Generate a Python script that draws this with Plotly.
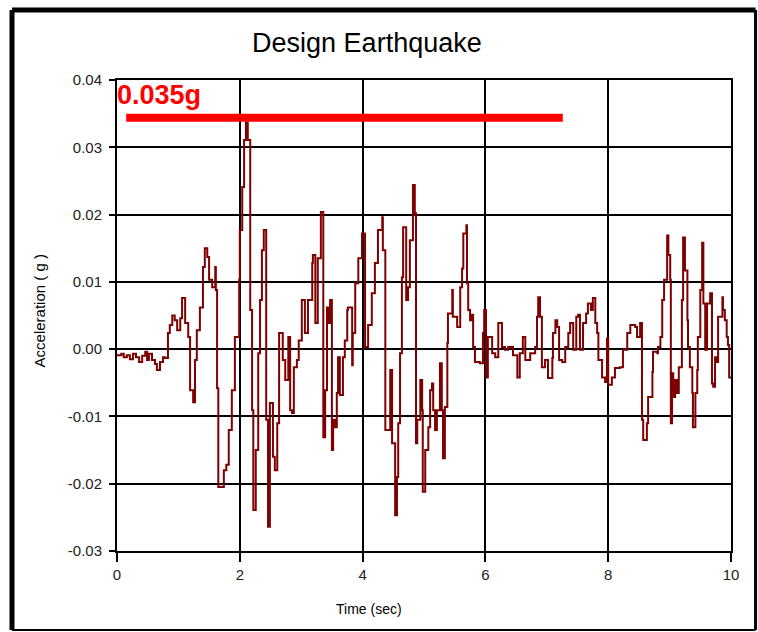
import plotly.graph_objects as go

# ---- data ----
time_s = [0.00, 0.07, 0.11, 0.16, 0.21, 0.26, 0.31, 0.36, 0.41, 0.46, 0.49, 0.52, 0.57, 0.62, 0.65,
          0.70, 0.75, 0.78, 0.83, 0.86, 0.90, 0.94, 0.98, 1.03, 1.06, 1.11, 1.16, 1.19, 1.24, 1.27,
          1.30, 1.35, 1.40, 1.43, 1.47, 1.50, 1.55, 1.60, 1.61, 1.63, 1.65, 1.69, 1.74, 1.78, 1.82,
          1.87, 1.92, 1.95, 1.99, 2.00, 2.04, 2.07, 2.10, 2.13, 2.17, 2.20, 2.22, 2.26, 2.30, 2.33,
          2.36, 2.39, 2.43, 2.46, 2.49, 2.54, 2.57, 2.61, 2.64, 2.70, 2.74, 2.79, 2.82, 2.85, 2.88,
          2.93, 2.96, 3.01, 3.06, 3.11, 3.18, 3.19, 3.23, 3.27, 3.32, 3.36, 3.39, 3.42, 3.44, 3.47,
          3.50, 3.52, 3.55, 3.58, 3.60, 3.63, 3.68, 3.71, 3.75, 3.76, 3.83, 3.84, 3.88, 3.93, 3.99,
          4.04, 4.09, 4.15, 4.20, 4.25, 4.32, 4.33, 4.37, 4.45, 4.48, 4.53, 4.56, 4.58, 4.61, 4.64,
          4.66, 4.71, 4.74, 4.77, 4.82, 4.85, 4.87, 4.89, 4.94, 4.97, 4.98, 5.02, 5.07, 5.10, 5.13,
          5.15, 5.18, 5.21, 5.26, 5.29, 5.31, 5.34, 5.38, 5.39, 5.46, 5.47, 5.54, 5.59, 5.62, 5.64,
          5.69, 5.70, 5.72, 5.75, 5.78, 5.80, 5.83, 5.91, 5.96, 5.98, 6.01, 6.04, 6.11, 6.16, 6.21,
          6.27, 6.32, 6.37, 6.45, 6.52, 6.56, 6.61, 6.65, 6.73, 6.81, 6.84, 6.86, 6.89, 6.92, 6.97,
          7.02, 7.09, 7.10, 7.14, 7.17, 7.20, 7.25, 7.30, 7.35, 7.38, 7.43, 7.48, 7.51, 7.54, 7.59,
          7.64, 7.67, 7.72, 7.75, 7.79, 7.82, 7.84, 7.90, 7.95, 7.98, 8.00, 8.06, 8.11, 8.19, 8.24,
          8.31, 8.36, 8.44, 8.47, 8.52, 8.55, 8.57, 8.63, 8.65, 8.72, 8.73, 8.80, 8.81, 8.85, 8.88,
          8.91, 8.96, 8.98, 9.01, 9.02, 9.04, 9.06, 9.09, 9.12, 9.15, 9.20, 9.22, 9.25, 9.29, 9.30,
          9.33, 9.37, 9.38, 9.42, 9.45, 9.46, 9.50, 9.53, 9.55, 9.58, 9.61, 9.66, 9.69, 9.71, 9.74,
          9.77, 9.79, 9.86, 9.87, 9.90, 9.93, 9.95, 9.97, 10.00]

acceleration_g = [-0.0009, -0.0007, -0.0012, -0.0009, -0.0015, -0.0007, -0.0012, -0.0019, -0.0010, -0.0004,
                  -0.0016, -0.0007, -0.0016, -0.0022, -0.0031, -0.0019, -0.0012, -0.0013, 0.0024, 0.0036,
                  0.0050, 0.0043, 0.0028, 0.0046, 0.0076, 0.0039, 0.0018, -0.0061, -0.0079, -0.0016,
                  0.0028, 0.0062, 0.0122, 0.0150, 0.0137, 0.0103, 0.0092, 0.0122, 0.0088, -0.0058,
                  -0.0205, -0.0205, -0.0180, -0.0172, -0.0120, -0.0061, 0.0018, 0.0018, 0.0103, 0.0177,
                  0.0241, 0.0311, 0.0337, 0.0311, 0.0058, -0.0091, -0.0239, -0.0150, -0.0006, 0.0073,
                  0.0147, 0.0177, -0.0105, -0.0264, -0.0080, -0.0160, -0.0180, -0.0110, 0.0024, -0.0016,
                  -0.0046, 0.0018, -0.0091, -0.0095, -0.0027, -0.0016, 0.0013, 0.0073, 0.0024, 0.0073,
                  0.0128, 0.0140, 0.0039, 0.0135, 0.0204, -0.0131, -0.0061, 0.0062, 0.0039, 0.0073,
                  -0.0150, -0.0105, -0.0116, -0.0065, -0.0012, -0.0068, -0.0012, 0.0013, 0.0058, 0.0062,
                  -0.0024, 0.0024, 0.0098, 0.0135, 0.0172, 0.0003, 0.0036, 0.0083, 0.0128, 0.0177,
                  0.0196, 0.0147, -0.0120, -0.0031, -0.0140, -0.0247, -0.0190, -0.0110, -0.0006, 0.0107,
                  0.0181, 0.0073, 0.0092, 0.0162, 0.0244, 0.0202, -0.0140, -0.0105, -0.0046, -0.0091,
                  -0.0212, -0.0150, -0.0116, -0.0061, -0.0051, -0.0091, -0.0120, -0.0091, -0.0021, -0.0091,
                  -0.0162, -0.0086, 0.0009, 0.0053, 0.0088, 0.0048, 0.0033, 0.0092, 0.0120, 0.0172,
                  0.0184, 0.0098, 0.0058, 0.0043, 0.0051, 0.0003, -0.0019, -0.0021, 0.0024, 0.0058,
                  -0.0042, 0.0018, -0.0006, -0.0012, 0.0039, 0.0003, -0.0001, 0.0003, -0.0009, -0.0042,
                  -0.0006, 0.0018, -0.0016, -0.0006, 0.0003, 0.0048, 0.0077, 0.0048, -0.0027, -0.0016,
                  -0.0043, -0.0013, 0.0024, 0.0043, 0.0033, -0.0016, -0.0019, 0.0003, 0.0024, 0.0039,
                  -0.0001, 0.0048, 0.0051, -0.0001, 0.0039, 0.0053, 0.0068, 0.0058, 0.0076, 0.0039,
                  0.0024, -0.0016, -0.0042, -0.0049, 0.0016, -0.0053, -0.0042, -0.0028, -0.0027, -0.0001,
                  0.0024, 0.0036, 0.0033, 0.0018, 0.0039, -0.0105, -0.0135, -0.0110, -0.0071, -0.0034,
                  -0.0004, -0.0006, 0.0003, 0.0018, 0.0073, 0.0103, 0.0169, 0.0140, 0.0103, -0.0110,
                  -0.0036, -0.0071, -0.0046, -0.0065, -0.0027, 0.0073, 0.0166, 0.0117, 0.0043, 0.0003,
                  -0.0027, -0.0065, -0.0116, -0.0065, -0.0031, 0.0018, 0.0088, 0.0158, 0.0068, -0.0001,
                  0.0068, 0.0083, -0.0051, -0.0056, -0.0012, -0.0019, 0.0048, 0.0077, 0.0058, 0.0043,
                  0.0018, 0.0006, -0.0042, -0.0042]

peak_line_t = [0.15, 7.26]
peak_line_g = [0.0344, 0.0344]
peak_label = "0.035g"

y_tick_vals = [0.04, 0.03, 0.02, 0.01, 0.00, -0.01, -0.02, -0.03]
y_tick_text = ["0.04", "0.03", "0.02", "0.01", "0.00", "-0.01", "-0.02", "-0.03"]
x_tick_vals = [0, 2, 4, 6, 8, 10]
x_tick_text = ["0", "2", "4", "6", "8", "10"]

FONT = "Liberation Sans, Arial, sans-serif"

fig = go.Figure()
fig.add_trace(go.Scatter(x=time_s, y=acceleration_g, mode="lines",
                         line=dict(color="#7f0000", width=2, shape="hv"),
                         showlegend=False, hoverinfo="skip"))
fig.add_trace(go.Scatter(x=peak_line_t, y=peak_line_g, mode="lines",
                         line=dict(color="#ff0000", width=8),
                         showlegend=False, hoverinfo="skip"))

fig.add_annotation(x=0, y=0.0377, xref="x", yref="y", text=peak_label, showarrow=False,
                   xanchor="left", yanchor="middle", xshift=-2,
                   font=dict(family=FONT, size=27, color="#ff0000", weight="bold"))

axis_common = dict(showgrid=True, gridcolor="black", gridwidth=2, showline=True,
                   linecolor="black", linewidth=2, mirror=True, zeroline=False,
                   ticks="outside", tickcolor="black", tickwidth=2,
                   tickfont=dict(family=FONT, size=15, color="#222"))

fig.update_xaxes(range=[0, 10], tickvals=x_tick_vals, ticktext=x_tick_text, ticklen=9,
                 **axis_common)
fig.update_yaxes(range=[-0.03, 0.04], tickvals=y_tick_vals, ticktext=y_tick_text, ticklen=6,
                 ticklabelstandoff=4, **axis_common)

# axis titles (placed as in the reference, left of plot centre)
fig.add_annotation(x=0.41, y=-0.124, xref="paper", yref="paper", text="Time (sec)", showarrow=False,
                   xanchor="center", yanchor="middle", font=dict(family=FONT, size=14, color="black"))
fig.add_annotation(x=-0.126, y=0.51, xref="paper", yref="paper", text="Acceleration ( g )",
                   showarrow=False, textangle=-90, xanchor="center", yanchor="middle",
                   font=dict(family=FONT, size=15, color="black"))

# outer frame
fig.add_shape(type="line", xref="paper", yref="paper", x0=-0.171, x1=1.040, y0=1.1486, y1=1.1486,
              line=dict(color="black", width=5))
fig.add_shape(type="line", xref="paper", yref="paper", x0=-0.171, x1=-0.171, y0=1.1486, y1=-0.1677,
              line=dict(color="black", width=5))
fig.add_shape(type="line", xref="paper", yref="paper", x0=1.040, x1=1.040, y0=1.1486, y1=-0.1677,
              line=dict(color="black", width=3))
fig.add_shape(type="line", xref="paper", yref="paper", x0=-0.171, x1=1.040, y0=-0.1677, y1=-0.1677,
              line=dict(color="black", width=2))

fig.update_layout(
    width=758, height=632,
    margin=dict(l=117, r=27, t=80, b=81),
    paper_bgcolor="white", plot_bgcolor="white",
    title=dict(text="Design Earthquake", x=0.407, xref="paper", xanchor="center",
               y=0.932, yref="container", yanchor="middle",
               font=dict(family=FONT, size=27, color="black")),
)

fig.write_html("out.html")
